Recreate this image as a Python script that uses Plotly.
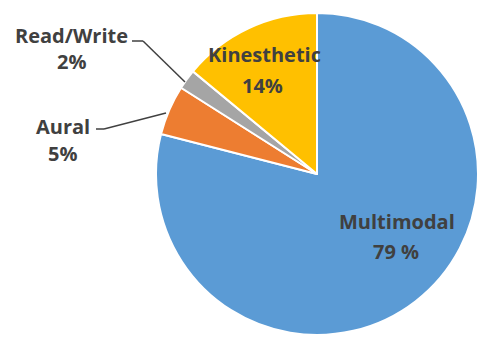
import plotly.graph_objects as go

categories = ["Multimodal", "Aural", "Read/Write", "Kinesthetic"]
values = [79, 5, 2, 14]
pct_labels = ["79 %", "5%", "2%", "14%"]
colors = ["#5B9BD5", "#ED7D31", "#A5A5A5", "#FFC000"]

W, H = 478, 338

def px(x):
    return x / W

def py(y):
    return 1 - y / H

# pie circle: center (317,174), r = 161 px
cx, cy, r = 317, 174, 161

fig = go.Figure(go.Pie(
    labels=categories,
    values=values,
    sort=False,
    direction="clockwise",
    rotation=0,
    textinfo="none",
    hoverinfo="label+percent",
    marker=dict(colors=colors, line=dict(color="white", width=2)),
    domain=dict(x=[px(cx - r), px(cx + r)], y=[py(cy + r), py(cy - r)]),
    showlegend=False,
))

# label positions (pixel centres of the two text lines)
label_pos = {
    "Multimodal": ((397, 221), (396, 251)),
    "Aural": ((63, 126), (62, 153)),
    "Read/Write": ((71, 36), (71, 61)),
    "Kinesthetic": ((264, 54), (262, 85)),
}

font = dict(family="Open Sans", size=20, color="#404040")
annotations = []
for cat, pct in zip(categories, pct_labels):
    (x1, y1), (x2, y2) = label_pos[cat]
    annotations.append(dict(x=px(x1), y=py(y1), xref="paper", yref="paper",
                            text="<b>%s</b>" % cat, showarrow=False,
                            xanchor="center", yanchor="middle", font=font))
    annotations.append(dict(x=px(x2), y=py(y2), xref="paper", yref="paper",
                            text="<b>%s</b>" % pct, showarrow=False,
                            xanchor="center", yanchor="middle", font=font))

# leader lines
leaders = [
    [(132, 41), (143, 41), (185, 82)],
    [(96, 129), (104, 129), (166, 113)],
]
shapes = []
for pts in leaders:
    for (xa, ya), (xb, yb) in zip(pts[:-1], pts[1:]):
        shapes.append(dict(type="line", xref="paper", yref="paper",
                           x0=px(xa), y0=py(ya), x1=px(xb), y1=py(yb),
                           line=dict(color="#404040", width=1.5)))

fig.update_layout(
    width=W, height=H,
    margin=dict(l=0, r=0, t=0, b=0),
    paper_bgcolor="white",
    plot_bgcolor="white",
    annotations=annotations,
    shapes=shapes,
)

fig.write_html("out.html")
